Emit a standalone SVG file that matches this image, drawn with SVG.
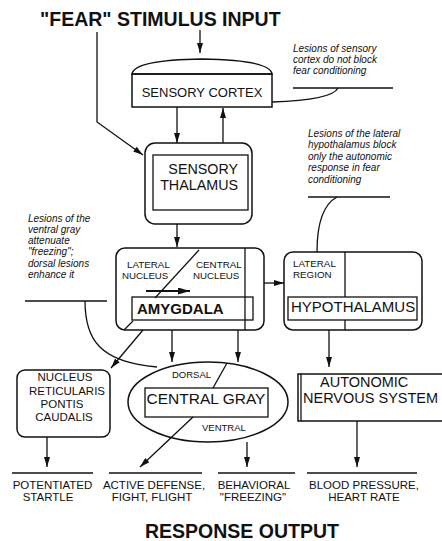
<svg xmlns="http://www.w3.org/2000/svg" width="442" height="541" viewBox="0 0 442 541">
<defs>
<marker id="ah" viewBox="0 0 10 6" refX="10" refY="3" markerWidth="10" markerHeight="6" markerUnits="userSpaceOnUse" orient="auto">
<path d="M0,0 L10,3 L0,6 z" fill="#111"/>
</marker>
<marker id="ahb" viewBox="0 0 12 7" refX="12" refY="3.5" markerWidth="12" markerHeight="7" markerUnits="userSpaceOnUse" orient="auto">
<path d="M0,0 L12,3.5 L0,7 z" fill="#111"/>
</marker>
</defs>
<style>
.t{font-family:"Liberation Sans",Arial,sans-serif;fill:#111}
.b{font-weight:bold}
.i{font-style:italic;font-size:10px}
.box{fill:none;stroke:#111;stroke-width:1.5}
.ln{fill:none;stroke:#111;stroke-width:1.3}
.ar{fill:none;stroke:#111;stroke-width:1.3;marker-end:url(#ah)}
.c{text-anchor:middle}
</style>
<rect width="442" height="541" fill="#fff"/>

<text class="t b" x="40" y="26" font-size="19.5">"FEAR" STIMULUS INPUT</text>
<text class="t b c" x="242" y="538" font-size="19.5">RESPONSE OUTPUT</text>

<g id="sensory-cortex">
<path class="box" d="M132,74 Q134,60 202,59 Q270,60 272,74 Z"/>
<rect class="box" x="132" y="74" width="140" height="33"/>
<text class="t c" x="202" y="97" font-size="13">SENSORY CORTEX</text>
</g>

<g id="sensory-thalamus">
<rect class="box" x="145" y="143" width="107" height="81" rx="10"/>
<rect class="ln" x="153" y="155" width="95" height="55"/>
<text class="t" x="238" y="174" font-size="14.3" text-anchor="end">SENSORY</text>
<text class="t" x="238" y="190" font-size="14.3" text-anchor="end">THALAMUS</text>
</g>

<g id="amygdala">
<rect class="box" x="116" y="248" width="148" height="82" rx="9"/>
<line class="ln" x1="245" y1="248" x2="245" y2="330"/>
<line class="ln" x1="199" y1="250" x2="155" y2="298"/>
<text class="t" x="127" y="268" font-size="9.8">LATERAL</text>
<text class="t" x="122" y="279" font-size="9.7">NUCLEUS</text>
<text class="t" x="196" y="268" font-size="9.8">CENTRAL</text>
<text class="t" x="193" y="279" font-size="9.7">NUCLEUS</text>
<line x1="146" y1="291" x2="190" y2="291" stroke="#111" stroke-width="2" marker-end="url(#ahb)"/>
<rect class="ln" x="132" y="297" width="121" height="23"/>
<text class="t b" x="137" y="314" font-size="15">AMYGDALA</text>
<line class="ln" x1="133" y1="321" x2="124" y2="330"/>
</g>

<g id="hypothalamus">
<rect class="box" x="284" y="252" width="138" height="78" rx="9"/>
<line class="ln" x1="345" y1="252" x2="345" y2="297"/>
<line class="ln" x1="345" y1="320" x2="345" y2="330"/>
<text class="t" x="293" y="267" font-size="9.8">LATERAL</text>
<text class="t" x="293" y="278" font-size="9.8">REGION</text>
<rect class="ln" x="288" y="297" width="129" height="23"/>
<text class="t" x="291" y="312" font-size="15">HYPOTHALAMUS</text>
</g>

<g id="nucleus-reticularis">
<rect class="box" x="17" y="370" width="93" height="67" rx="8"/>
<text class="t c" x="65" y="381" font-size="11.5">NUCLEUS</text>
<text class="t c" x="67" y="395" font-size="11.5">RETICULARIS</text>
<text class="t c" x="62" y="408" font-size="11.5">PONTIS</text>
<text class="t c" x="64" y="421" font-size="11.5">CAUDALIS</text>
</g>

<g id="central-gray">
<ellipse class="box" cx="208" cy="402" rx="80" ry="40"/>
<line class="ln" x1="227" y1="363" x2="213" y2="388"/>
<rect class="ln" x="145" y="388" width="123" height="29"/>
<text class="t c" x="206" y="404" font-size="15.5">CENTRAL GRAY</text>
<text class="t" x="172" y="378" font-size="9.5">DORSAL</text>
<text class="t" x="202" y="431" font-size="9.5">VENTRAL</text>
</g>

<g id="autonomic-nervous-system">
<rect class="box" x="298" y="374" width="150" height="47"/>
<line class="ln" x1="301" y1="374" x2="301" y2="421"/>
<text class="t" x="320" y="387" font-size="14.5">AUTONOMIC</text>
<text class="t" x="303" y="403" font-size="14.5">NERVOUS SYSTEM</text>
</g>

<g id="outputs">
<line class="ln" x1="12" y1="473" x2="93" y2="473"/>
<line class="ln" x1="109" y1="473" x2="202" y2="473"/>
<line class="ln" x1="218" y1="473" x2="295" y2="473"/>
<line class="ln" x1="307" y1="473" x2="417" y2="473"/>
<text class="t c" x="52.5" y="489" font-size="11.5">POTENTIATED</text>
<text class="t c" x="48" y="501" font-size="11.5">STARTLE</text>
<text class="t c" x="154" y="489" font-size="11.5">ACTIVE DEFENSE,</text>
<text class="t c" x="152" y="501" font-size="11.5">FIGHT, FLIGHT</text>
<text class="t c" x="254" y="489" font-size="11.5">BEHAVIORAL</text>
<text class="t c" x="253" y="501" font-size="11.5">"FREEZING"</text>
<text class="t c" x="364" y="489" font-size="11.5">BLOOD PRESSURE,</text>
<text class="t c" x="364" y="501" font-size="11.5">HEART RATE</text>
</g>

<g id="annotations">
<text class="t i" x="293" y="52">Lesions of sensory</text>
<text class="t i" x="293" y="63">cortex do not block</text>
<text class="t i" x="293" y="74">fear conditioning</text>
<line class="ln" x1="293" y1="88" x2="393" y2="88"/>
<path class="ln" d="M338,88 Q332,100 272,102"/>

<text class="t i" x="308" y="137">Lesions of the lateral</text>
<text class="t i" x="308" y="148">hypothalamus block</text>
<text class="t i" x="308" y="160">only the autonomic</text>
<text class="t i" x="308" y="171">response in fear</text>
<text class="t i" x="308" y="183">conditioning</text>
<line class="ln" x1="308" y1="197" x2="390" y2="197"/>
<path class="ln" d="M337,197 C322,205 317,225 317,252"/>

<text class="t i" x="28" y="222">Lesions of the</text>
<text class="t i" x="28" y="233">ventral gray</text>
<text class="t i" x="28" y="244">attenuate</text>
<text class="t i" x="28" y="255">"freezing";</text>
<text class="t i" x="28" y="267">dorsal lesions</text>
<text class="t i" x="28" y="278">enhance it</text>
<line class="ln" x1="25" y1="301" x2="107" y2="301"/>
<path class="ln" d="M85,301 C85,340 100,362 157,367"/>
</g>

<g id="connectors">
<line class="ar" x1="200" y1="30" x2="200" y2="53"/>
<polyline class="ar" points="97,32 97,122 143,155"/>
<line class="ar" x1="177" y1="107" x2="177" y2="143"/>
<line class="ar" x1="223" y1="143" x2="223" y2="108"/>
<line class="ar" x1="177" y1="224" x2="177" y2="247"/>
<line class="ar" x1="264" y1="283" x2="284" y2="283"/>
<line class="ar" x1="329" y1="330" x2="329" y2="367"/>
<line class="ar" x1="143" y1="330" x2="111" y2="368"/>
<line class="ar" x1="172" y1="330" x2="172" y2="362"/>
<line class="ar" x1="238" y1="330" x2="238" y2="362"/>
<line class="ar" x1="193" y1="417" x2="140" y2="467"/>
<line class="ar" x1="247" y1="442" x2="247" y2="467"/>
<line class="ar" x1="47" y1="437" x2="47" y2="467"/>
<line class="ar" x1="357" y1="421" x2="357" y2="467"/>
</g>
</svg>
